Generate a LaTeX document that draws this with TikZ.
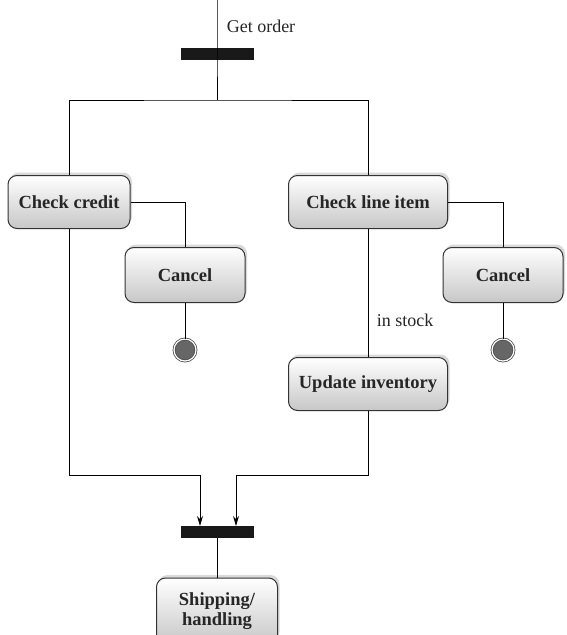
\documentclass[tikz,border=0pt]{standalone}
\usepackage{fontspec}
\setmainfont{Liberation Serif}
\usetikzlibrary{arrows.meta,shadows}

\tikzset{
  activity/.style={draw=black!80, line width=1pt, rounded corners=9pt,
    top color=white, bottom color=black!22,
    drop shadow={opacity=0.3, shadow xshift=2pt, shadow yshift=3pt},
    font=\bfseries\fontsize{18.5}{20}\selectfont, text=black!85, align=center,
    minimum height=53pt, inner sep=2pt},
  bar/.style={fill=black!90, minimum width=73pt, minimum height=12pt, inner sep=0pt},
  final/.style={circle, draw=black!70, line width=0.8pt, fill=black!60,
    double=white, double distance=1.2pt, minimum size=22pt, inner sep=0pt},
  flow/.style={line width=1pt},
  note/.style={font=\fontsize{18}{19}\selectfont, text=black!85},
}

\begin{document}
\begin{tikzpicture}[x=1pt, y=-1pt]
  \useasboundingbox (0,0) rectangle (566,635);

  \coordinate (start) at (217,0);
  \node[bar] (fork) at (217,54) {};
  \node[note] (label) at (261,26) {Get order};

  \node[activity, minimum width=122pt] (credit) at (69,202) {Check credit};
  \node[activity, minimum width=159pt] (item) at (368,202) {Check line item};
  \node[activity, minimum width=120pt, minimum height=55pt] (cancelA) at (185,275) {Cancel};
  \node[activity, minimum width=120pt, minimum height=55pt] (cancelB) at (503,275) {Cancel};
  \node[final] (endA) at (185,350) {};
  \node[final] (endB) at (503,350) {};
  \node[activity, minimum width=159pt] (update) at (368,384) {Update inventory};
  \node[note] (stock) at (405,320) {in stock};
  \node[bar] (join) at (217,532) {};
  \node[activity, minimum width=121pt, minimum height=66pt] (ship) at (217,611) {Shipping/\\handling};

  \draw[flow] (start) -- (fork.center) -- (217,100);
  \draw[flow] (credit.north) |- (217,100) -| (item.north);
  \draw[flow] (credit.east) -| (cancelA.north);
  \draw[flow] (item.east) -| (cancelB.north);
  \draw[flow] (cancelA) -- (endA);
  \draw[flow] (cancelB) -- (endB);
  \draw[flow] (item) -- (update);
  \draw[flow, -{Stealth[length=10pt,width=6pt]}] (credit.south) |- (200,475) -- (200,526);
  \draw[flow, -{Stealth[length=10pt,width=6pt]}] (update.south) |- (236,475) -- (236,526);
  \draw[flow] (join) -- (ship);
\end{tikzpicture}
\end{document}
